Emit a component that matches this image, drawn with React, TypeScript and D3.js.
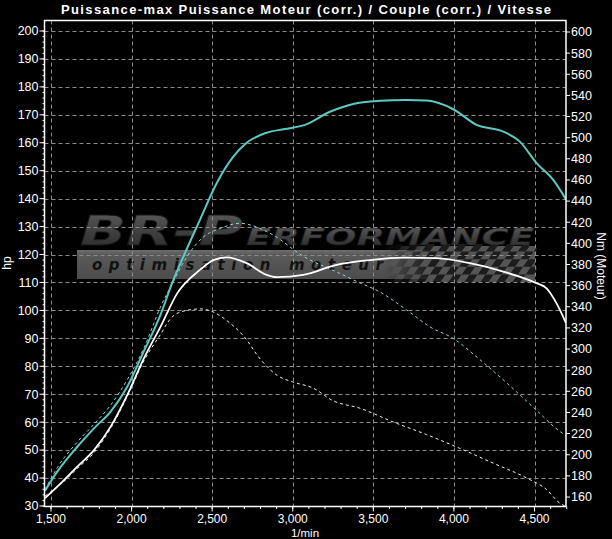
import React from "react";
import * as d3 from "d3";

const title = "Puissance-max Puissance Moteur (corr.) / Couple (corr.) / Vitesse";
const xTicks = [1500, 2000, 2500, 3000, 3500, 4000, 4500];
const hpTicks = [30, 40, 50, 60, 70, 80, 90, 100, 110, 120, 130, 140, 150, 160, 170, 180, 190, 200];
const nmTicks = [160, 180, 200, 220, 240, 260, 280, 300, 320, 340, 360, 380, 400, 420, 440, 460, 480, 500, 520, 540, 560, 580, 600];

// tuned power (hp) - cyan solid
const tunedPowerRpm = [1463, 1539, 1663, 1767, 1870, 1973, 2077, 2180, 2253, 2321, 2424, 2528, 2631, 2714, 2838, 2950, 3076, 3231, 3375, 3541, 3700, 3831, 3996, 4141, 4306, 4409, 4513, 4616, 4695];
const tunedPowerHp = [35.5, 42.3, 51.2, 57.8, 63.8, 72.7, 85.5, 98.5, 110.0, 119.2, 132.4, 145.5, 155.0, 160.0, 163.6, 164.9, 166.4, 171.1, 173.9, 175.0, 175.3, 175.1, 172.0, 166.4, 164.0, 160.4, 152.7, 146.7, 139.8];

// stock power (hp) - white solid
const stockPowerRpm = [1463, 1560, 1663, 1767, 1870, 1973, 2077, 2180, 2283, 2424, 2507, 2590, 2714, 2838, 2900, 3065, 3272, 3479, 3686, 3893, 4099, 4306, 4513, 4575, 4637, 4695];
const stockPowerHp = [32.8, 38.1, 44.1, 50.0, 58.4, 69.7, 82.9, 94.2, 106.1, 114.5, 118.0, 119.0, 116.9, 112.7, 111.9, 112.7, 116.3, 118.0, 118.9, 118.7, 116.9, 113.9, 109.7, 107.9, 102.5, 95.5];

// tuned torque (Nm) - cyan dashed
const tunedTorqueRpm = [1463, 1540, 1663, 1767, 1870, 1973, 2077, 2180, 2253, 2342, 2445, 2548, 2672, 2766, 2877, 3063, 3272, 3396, 3541, 3707, 3851, 3996, 4161, 4327, 4492, 4658, 4695];
const tunedTorqueNm = [167, 188, 212, 229, 247, 271, 301, 340, 362, 387, 406, 414, 419, 416, 408, 388, 373, 364, 354, 337, 321, 310, 290, 268, 245, 222, 218];

// stock torque (Nm) - white dashed
const stockTorqueRpm = [1463, 1560, 1663, 1767, 1870, 1973, 2077, 2180, 2243, 2325, 2429, 2491, 2615, 2697, 2801, 2904, 2997, 3127, 3251, 3417, 3623, 3831, 4037, 4244, 4451, 4575, 4658, 4695];
const stockTorqueNm = [161, 172, 187, 202, 225, 255, 289, 314, 329, 336, 338, 336, 324, 312, 290, 275, 269, 263, 251, 244, 231, 219, 206, 192, 178, 167, 154, 151];

const W = 612;
const H = 539;
const frame = { left: 44.5, right: 566, top: 20.5, bottom: 506.5 };

const x = d3.scaleLinear().domain([1500, 4500]).range([51, 534.5]);
const yHp = d3.scaleLinear().domain([30, 200]).range([506, 31]);
const yNm = d3.scaleLinear().domain([160, 600]).range([497, 32]);

const labelFont = "'Liberation Sans Narrow', 'Arial Narrow', 'Liberation Sans', sans-serif";

function pathFor(rpm: number[], vals: number[], y: d3.ScaleLinear<number, number>) {
  const pts: [number, number][] = rpm.map((r, i) => [x(r), y(vals[i])]);
  return d3.line().curve(d3.curveMonotoneX)(pts) || "";
}

export default function App() {
  const gridColor = "#8c8c8c";
  const hpMinor = d3.range(30, 201, 2);
  const xMinor = d3.range(1500, 4701, 100);
  const cells: JSX.Element[] = [];
  const cs = 8;
  for (let r = 0; r < 5; r++) {
    for (let c = 0; c < 20; c++) {
      if ((r + c) % 2 === 0) {
        cells.push(<rect key={`c${r}-${c}`} x={c * cs} y={r * cs} width={cs} height={cs} fill="#1c1c1c" />);
      }
    }
  }
  return (
    <svg width={W} height={H} style={{ display: "block", position: "absolute", left: 0, top: 0 }}>
      <defs>
        <linearGradient id="logoGrad" x1="0" y1="0" x2="0" y2="1">
          <stop offset="0" stopColor="#5e5e5e" />
          <stop offset="0.5" stopColor="#404040" />
          <stop offset="1" stopColor="#282828" />
        </linearGradient>
        <linearGradient id="bandGrad" x1="0" y1="0" x2="0" y2="1">
          <stop offset="0" stopColor="#6e6e6e" />
          <stop offset="0.15" stopColor="#5a5a5a" />
          <stop offset="1" stopColor="#4c4c4c" />
        </linearGradient>
        <linearGradient id="checkFade" x1="0" y1="0" x2="1" y2="0">
          <stop offset="0" stopColor="#fff" stopOpacity="0" />
          <stop offset="0.3" stopColor="#fff" stopOpacity="1" />
          <stop offset="1" stopColor="#fff" stopOpacity="1" />
        </linearGradient>
        <mask id="checkMask">
          <rect x={385} y={244} width={152} height={40} fill="url(#checkFade)" />
        </mask>
        <clipPath id="plotClip">
          <rect x={frame.left} y={frame.top} width={frame.right - frame.left} height={frame.bottom - frame.top} />
        </clipPath>
      </defs>
      <rect x={0} y={0} width={W} height={H} fill="#000" />

      {/* watermark logo */}
      <g>
        <rect x={77} y={250} width={458} height={29} fill="url(#bandGrad)" />
        <g mask="url(#checkMask)">
          <rect x={385} y={246} width={150} height={36} fill="#555" />
          <g transform="translate(395,244) skewX(-35) scale(1,0.95)">{cells}</g>
        </g>
        <text x={92} y={270} fontFamily="'DejaVu Sans', sans-serif" fontWeight="bold" fontStyle="italic" fontSize={15}
          fill="#121212" textLength={291} lengthAdjust="spacing">optimisation moteur</text>
        <text x={80} y={245} fontFamily="'DejaVu Sans', sans-serif" fontWeight="bold" fontStyle="italic" fontSize={40}
          fill="url(#logoGrad)" stroke="#1a1a1a" strokeWidth={0.8} textLength={163} lengthAdjust="spacingAndGlyphs">BR-P</text>
        <text x={246} y={245} fontFamily="'DejaVu Sans', sans-serif" fontWeight="bold" fontStyle="italic" fontSize={23}
          fill="url(#logoGrad)" stroke="#1a1a1a" strokeWidth={0.6} textLength={288} lengthAdjust="spacingAndGlyphs">ERFORMANCE</text>
      </g>

      {/* grid */}
      <g stroke={gridColor} strokeWidth={1} strokeDasharray="4,3" fill="none">
        {hpTicks.filter((t) => t > 30).map((t) => (
          <line key={`gh${t}`} x1={frame.left} x2={frame.right} y1={Math.round(yHp(t)) + 0.5} y2={Math.round(yHp(t)) + 0.5} />
        ))}
        {xTicks.map((t) => (
          <line key={`gv${t}`} x1={Math.round(x(t)) + 0.5} x2={Math.round(x(t)) + 0.5} y1={frame.top} y2={frame.bottom} />
        ))}
      </g>

      {/* curves */}
      <g clipPath="url(#plotClip)" fill="none">
        <path d={pathFor(stockTorqueRpm, stockTorqueNm, yNm)} stroke="#f2f2f2" strokeWidth={1} strokeDasharray="3,3" />
        <path d={pathFor(tunedTorqueRpm, tunedTorqueNm, yNm)} stroke="#86dad3" strokeWidth={1} strokeDasharray="3,3" />
        <path d={pathFor(stockPowerRpm, stockPowerHp, yHp)} stroke="#ffffff" strokeWidth={1.8} />
        <path d={pathFor(tunedPowerRpm, tunedPowerHp, yHp)} stroke="#5cc9c1" strokeWidth={2} />
      </g>

      {/* frame */}
      <rect x={frame.left} y={frame.top} width={frame.right - frame.left} height={frame.bottom - frame.top}
        fill="none" stroke="#fff" strokeWidth={1.5} />

      {/* left axis */}
      <g fill="#fff" fontFamily={labelFont} fontSize={12.5}>
        {hpMinor.map((t) => (
          <line key={`lm${t}`} x1={frame.left - 2} x2={frame.left} y1={yHp(t)} y2={yHp(t)} stroke="#fff" strokeWidth={1} />
        ))}
        {hpTicks.map((t) => (
          <g key={`l${t}`}>
            <line x1={frame.left - 5} x2={frame.left} y1={yHp(t)} y2={yHp(t)} stroke="#fff" strokeWidth={1} />
            <text x={frame.left - 6} y={yHp(t)} dy="0.35em" textAnchor="end">{t}</text>
          </g>
        ))}
        <text transform="translate(11,263) rotate(-90)" textAnchor="middle" fontSize={12}>hp</text>
      </g>

      {/* right axis */}
      <g fill="#fff" fontFamily={labelFont} fontSize={12.5}>
        {nmTicks.map((t) => (
          <g key={`r${t}`}>
            <line x1={frame.right} x2={frame.right + 4} y1={yNm(t)} y2={yNm(t)} stroke="#fff" strokeWidth={1} />
            <text x={frame.right + 5} y={yNm(t)} dy="0.35em" textAnchor="start">{t}</text>
          </g>
        ))}
        <text transform="translate(597,266) rotate(90)" textAnchor="middle" fontSize={12}>Nm (Moteur)</text>
      </g>

      {/* bottom axis */}
      <g fill="#fff" fontFamily={labelFont} fontSize={12}>
        {xMinor.map((t) => (
          <line key={`bm${t}`} x1={x(t)} x2={x(t)} y1={frame.bottom} y2={frame.bottom + 2.5} stroke="#fff" strokeWidth={1} />
        ))}
        {xTicks.map((t) => (
          <g key={`b${t}`}>
            <line x1={x(t)} x2={x(t)} y1={frame.bottom} y2={frame.bottom + 5} stroke="#fff" strokeWidth={1} />
            <text x={x(t)} y={518.5} dy="0.35em" textAnchor="middle">{d3.format(",")(t)}</text>
          </g>
        ))}
        <text x={305} y={532.5} dy="0.35em" textAnchor="middle" fontSize={11.5}>1/min</text>
      </g>

      {/* title */}
      <text x={306} y={9} dy="0.35em" textAnchor="middle" fill="#fff" fontFamily="'Liberation Sans', Arial, sans-serif"
        fontWeight="bold" fontSize={13} textLength={490} lengthAdjust="spacing">{title}</text>
    </svg>
  );
}
